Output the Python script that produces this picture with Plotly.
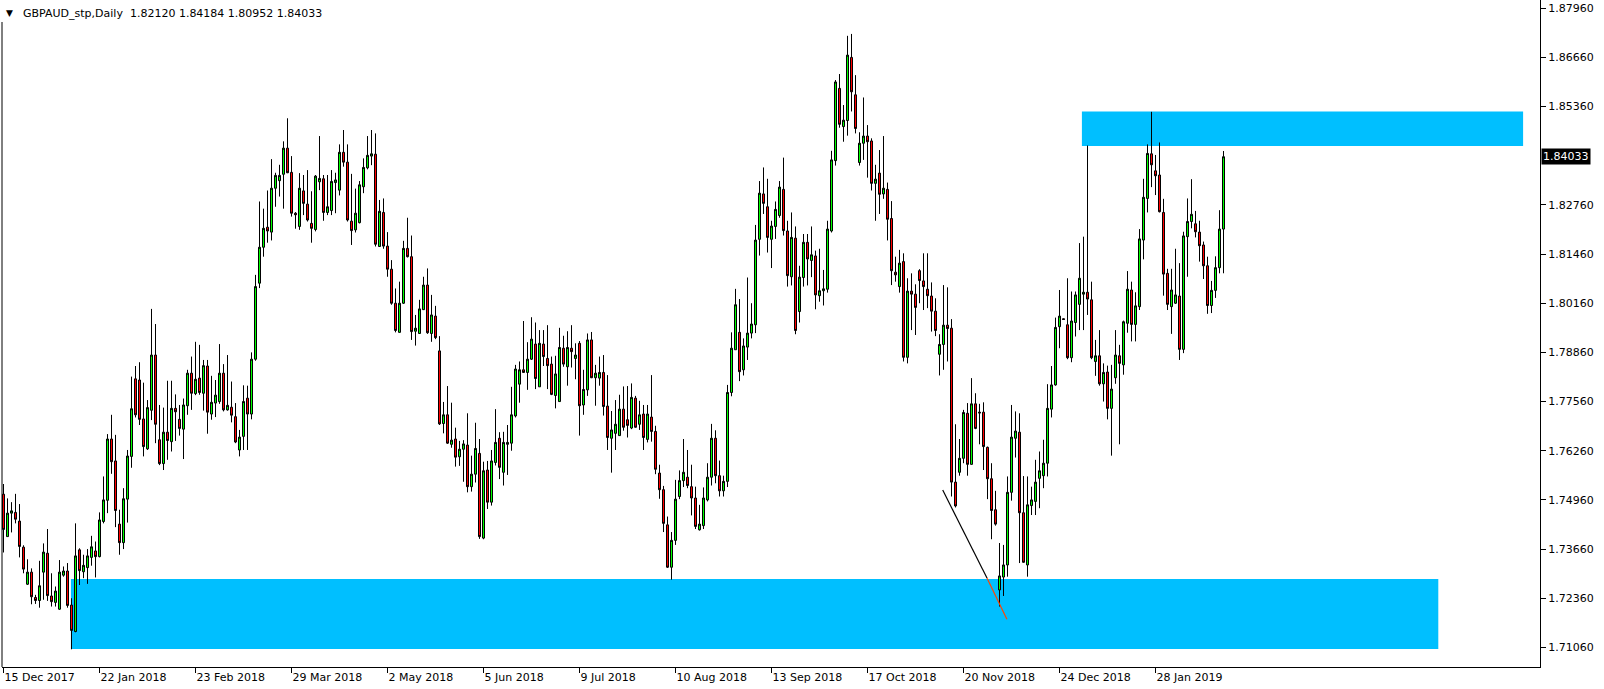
import plotly.graph_objects as go

# ---- data (GBPAUD daily, bar index 0 = 15 Dec 2017) ----
opens = [1.7511,1.7399,1.7461,1.7463,1.7440,1.7371,1.7273,1.7305,1.7238,1.7230,
1.7305,1.7355,1.7242,1.7225,1.7207,1.7297,1.7308,1.7218,1.7148,1.7364,
1.7306,1.7317,1.7344,1.7361,1.7346,1.7439,1.7495,1.7657,1.7599,1.7432,
1.7383,1.7498,1.7611,1.7816,1.7813,1.7710,1.7631,1.7733,1.7879,1.7655,
1.7592,1.7675,1.7650,1.7738,1.7709,1.7683,1.7745,1.7831,1.7777,1.7818,
1.7778,1.7850,1.7723,1.7752,1.7756,1.7831,1.7734,1.7741,1.7716,1.7628,
1.7664,1.7765,1.7723,1.7868,1.8069,1.8164,1.8217,1.8204,1.8320,1.8340,
1.8357,1.8426,1.8362,1.8254,1.8219,1.8313,1.8278,1.8227,1.8211,1.8337,
1.8345,1.8256,1.8261,1.8335,1.8315,1.8415,1.8389,1.8233,1.8210,1.8229,
1.8324,1.8374,1.8405,1.8410,1.8166,1.8256,1.8167,1.8106,1.8016,1.7939,
1.8016,1.8161,1.8139,1.7942,1.7936,1.7999,1.8064,1.7936,1.7982,1.7890,
1.7698,1.7721,1.7643,1.7657,1.7610,1.7630,1.7641,1.7531,1.7564,1.7619,
1.7395,1.7575,1.7490,1.7595,1.7659,1.7569,1.7643,1.7646,1.7718,1.7802,
1.7840,1.7833,1.7868,1.7908,1.7795,1.7908,1.7870,1.7855,1.7772,1.7756,
1.7897,1.7848,1.7897,1.7870,1.7910,1.7747,1.7787,1.7919,1.7819,1.7818,
1.7833,1.7744,1.7659,1.7672,1.7666,1.7736,1.7708,1.7686,1.7765,1.7696,
1.7723,1.7656,1.7715,1.7677,1.7567,1.7523,1.7430,1.7318,1.7389,1.7505,
1.7547,1.7556,1.7531,1.7501,1.7417,1.7428,1.7496,1.7556,1.7659,1.7560,
1.7520,1.7545,1.7780,1.7893,1.7939,1.7840,1.7900,1.7937,1.7959,1.8185,
1.8305,1.8271,1.8185,1.8219,1.8248,1.8317,1.8207,1.8086,1.8188,1.7994,
1.8084,1.8177,1.8129,1.8141,1.8036,1.8049,1.8053,1.8207,1.8393,1.8584,
1.8483,1.8499,1.8666,1.8567,1.8388,1.8439,1.8458,1.8445,1.8333,1.8360,
1.8305,1.8317,1.8240,1.8098,1.8060,1.8126,1.7873,1.8048,1.8040,1.8102,
1.8075,1.8053,1.8035,1.7995,1.7881,1.7907,1.7958,1.7950,1.7543,1.7569,
1.7606,1.7725,1.7590,1.7750,1.7728,1.7728,1.7635,1.7552,1.7470,1.7258,
1.7292,1.7324,1.7516,1.7659,1.7675,1.7462,1.7324,1.7481,1.7492,1.7553,
1.7560,1.7593,1.7736,1.7800,1.7954,1.7975,1.7959,1.7872,1.7965,1.8013,
1.8040,1.8045,1.8025,1.7862,1.7877,1.7803,1.7834,1.7738,1.7819,1.7877,
1.7853,1.7963,1.8051,1.7960,1.8007,1.8183,1.8293,1.8411,1.8366,1.8355,
1.8256,1.8095,1.8007,1.8016,1.8035,1.7894,1.8192,1.8232,1.8226,1.8204,
1.8170,1.8115,1.8010,1.8050,1.8110,1.82120]
highs = [1.7538,1.7500,1.7490,1.7512,1.7485,1.7376,1.7339,1.7315,1.7245,1.7335,
1.7381,1.7419,1.7302,1.7267,1.7337,1.7320,1.7329,1.7236,1.7434,1.7368,
1.7351,1.7366,1.7401,1.7386,1.7463,1.7558,1.7670,1.7721,1.7668,1.7470,
1.7527,1.7628,1.7822,1.7850,1.7860,1.7806,1.7760,1.8001,1.7961,1.7747,
1.7740,1.7811,1.7811,1.7775,1.7747,1.7764,1.7840,1.7875,1.7914,1.7906,
1.7866,1.7866,1.7824,1.7813,1.7908,1.7855,1.7879,1.7809,1.7752,1.7681,
1.7799,1.7798,1.7886,1.8091,1.8285,1.8266,1.8314,1.8397,1.8361,1.8382,
1.8444,1.8505,1.8405,1.8257,1.8360,1.8355,1.8368,1.8312,1.8355,1.8458,
1.8355,1.8355,1.8368,1.8361,1.8436,1.8474,1.8436,1.8358,1.8319,1.8339,
1.8399,1.8458,1.8474,1.8465,1.8289,1.8293,1.8204,1.8130,1.8055,1.8073,
1.8181,1.8242,1.8195,1.7985,1.8025,1.8086,1.8108,1.8038,1.8009,1.7929,
1.7755,1.7797,1.7753,1.7687,1.7652,1.7654,1.7725,1.7613,1.7700,1.7657,
1.7597,1.7599,1.7628,1.7736,1.7675,1.7676,1.7694,1.7795,1.7853,1.7862,
1.7969,1.7913,1.7979,1.7965,1.7945,1.7945,1.7958,1.7875,1.7877,1.7951,
1.7930,1.7942,1.7958,1.7910,1.7916,1.7840,1.7936,1.7940,1.7853,1.7875,
1.7879,1.7826,1.7731,1.7760,1.7774,1.7796,1.7797,1.7804,1.7771,1.7758,
1.7747,1.7747,1.7826,1.7692,1.7589,1.7533,1.7452,1.7411,1.7549,1.7574,
1.7657,1.7628,1.7589,1.7531,1.7483,1.7529,1.7593,1.7697,1.7680,1.7600,
1.7560,1.7800,1.7939,1.8054,1.8027,1.7923,1.8084,1.8016,1.8223,1.8339,
1.8375,1.8345,1.8234,1.8285,1.8339,1.8401,1.8234,1.8256,1.8219,1.8115,
1.8199,1.8199,1.8219,1.8155,1.8160,1.8104,1.8234,1.8419,1.8606,1.8622,
1.8540,1.8723,1.8728,1.8619,1.8468,1.8560,1.8487,1.8452,1.8382,1.8421,
1.8458,1.8335,1.8286,1.8139,1.8157,1.8148,1.8082,1.8095,1.8066,1.8106,
1.8148,1.8148,1.8071,1.8029,1.7934,1.8064,1.8058,1.7974,1.7696,1.7657,
1.7734,1.7752,1.7818,1.7778,1.7750,1.7754,1.7637,1.7593,1.7520,1.7382,
1.7377,1.7558,1.7747,1.7730,1.7725,1.7559,1.7558,1.7531,1.7602,1.7624,
1.7655,1.7802,1.7850,1.7978,1.8051,1.7976,1.8082,1.8047,1.8047,1.8175,
1.8192,1.8433,1.8073,1.7919,1.7945,1.7857,1.7851,1.7853,1.7945,1.7906,
1.7970,1.8101,1.8073,1.8045,1.8212,1.8345,1.8436,1.8522,1.8408,1.8441,
1.8292,1.8107,1.8107,1.8160,1.8122,1.8205,1.8293,1.8344,1.8260,1.8234,
1.8179,1.8139,1.8075,1.8140,1.8262,1.84184]
lows = [1.7357,1.7399,1.7410,1.7434,1.7344,1.7302,1.7271,1.7220,1.7221,1.7211,
1.7232,1.7229,1.7214,1.7214,1.7205,1.7293,1.7211,1.7101,1.7146,1.7271,
1.7289,1.7274,1.7322,1.7291,1.7344,1.7434,1.7461,1.7565,1.7424,1.7351,
1.7366,1.7436,1.7581,1.7714,1.7694,1.7611,1.7628,1.7707,1.7646,1.7588,
1.7575,1.7602,1.7624,1.7652,1.7666,1.7604,1.7721,1.7734,1.7773,1.7774,
1.7732,1.7671,1.7708,1.7715,1.7750,1.7730,1.7732,1.7701,1.7646,1.7611,
1.7628,1.7628,1.7709,1.7864,1.8056,1.8139,1.8176,1.8182,1.8271,1.8298,
1.8266,1.8360,1.8245,1.8213,1.8210,1.8249,1.8232,1.8176,1.8206,1.8315,
1.8234,1.8249,1.8249,1.8254,1.8301,1.8377,1.8232,1.8170,1.8203,1.8227,
1.8307,1.8370,1.8381,1.8166,1.8165,1.8160,1.8086,1.8012,1.7939,1.7938,
1.8014,1.8137,1.7919,1.7904,1.7935,1.7998,1.7935,1.7914,1.7921,1.7694,
1.7672,1.7644,1.7634,1.7584,1.7586,1.7544,1.7516,1.7518,1.7542,1.7393,
1.7392,1.7472,1.7481,1.7587,1.7551,1.7534,1.7562,1.7626,1.7714,1.7753,
1.7832,1.7787,1.7866,1.7789,1.7795,1.7850,1.7789,1.7773,1.7738,1.7756,
1.7848,1.7798,1.7846,1.7815,1.7666,1.7721,1.7771,1.7818,1.7745,1.7798,
1.7719,1.7628,1.7568,1.7628,1.7665,1.7679,1.7661,1.7683,1.7687,1.7681,
1.7628,1.7648,1.7650,1.7564,1.7499,1.7411,1.7316,1.7285,1.7377,1.7498,
1.7530,1.7527,1.7455,1.7419,1.7415,1.7419,1.7492,1.7534,1.7540,1.7505,
1.7505,1.7530,1.7770,1.7893,1.7810,1.7825,1.7866,1.7923,1.7937,1.8142,
1.8252,1.8150,1.8109,1.8186,1.8242,1.8195,1.8060,1.8063,1.7934,1.7965,
1.8060,1.8063,1.8085,1.8000,1.8020,1.8010,1.8044,1.8203,1.8380,1.8480,
1.8443,1.8459,1.8523,1.8465,1.8380,1.8395,1.8348,1.8314,1.8234,1.8252,
1.8292,1.8182,1.8064,1.8073,1.8044,1.7862,1.7857,1.7945,1.7932,1.8016,
1.7998,1.8003,1.7941,1.7929,1.7825,1.7840,1.7862,1.7505,1.7476,1.7560,
1.7593,1.7560,1.7589,1.7683,1.7643,1.7575,1.7498,1.7392,1.7428,1.7214,
1.7242,1.7293,1.7494,1.7608,1.7329,1.7330,1.7293,1.7456,1.7456,1.7474,
1.7527,1.7558,1.7714,1.7798,1.7897,1.7972,1.7868,1.7860,1.7928,1.7945,
1.7945,1.7985,1.7868,1.7824,1.7798,1.7756,1.7709,1.7613,1.7803,1.7643,
1.7827,1.7938,1.7915,1.7915,1.7998,1.8132,1.8256,1.8323,1.8302,1.8256,
1.8036,1.7998,1.7935,1.8014,1.7866,1.7884,1.8086,1.8214,1.8190,1.8126,
1.8080,1.7988,1.7990,1.8030,1.8095,1.80952]
closes = [1.7418,1.7461,1.7467,1.7445,1.7373,1.7313,1.7305,1.7240,1.7230,1.7269,
1.7358,1.7243,1.7227,1.7255,1.7305,1.7308,1.7217,1.7151,1.7348,1.7309,
1.7323,1.7348,1.7372,1.7346,1.7443,1.7496,1.7657,1.7597,1.7468,1.7383,
1.7499,1.7612,1.7737,1.7721,1.7709,1.7637,1.7740,1.7879,1.7696,1.7592,
1.7675,1.7653,1.7738,1.7729,1.7685,1.7747,1.7831,1.7778,1.7815,1.7780,
1.7851,1.7728,1.7754,1.7773,1.7831,1.7734,1.7746,1.7720,1.7649,1.7662,
1.7756,1.7723,1.7868,1.8060,1.8164,1.8214,1.8207,1.8320,1.8354,1.8354,
1.8426,1.8361,1.8254,1.8250,1.8320,1.8280,1.8236,1.8214,1.8352,1.8346,
1.8256,1.8271,1.8338,1.8342,1.8415,1.8389,1.8236,1.8208,1.8254,1.8329,
1.8375,1.8407,1.8411,1.8172,1.8259,1.8167,1.8106,1.8016,1.7944,1.8016,
1.8161,1.8139,1.7941,1.7950,1.8001,1.8064,1.7938,1.7985,1.7925,1.7697,
1.7721,1.7646,1.7654,1.7609,1.7630,1.7644,1.7531,1.7564,1.7632,1.7399,
1.7573,1.7490,1.7599,1.7648,1.7582,1.7648,1.7648,1.7721,1.7842,1.7840,
1.7833,1.7868,1.7921,1.7817,1.7910,1.7875,1.7851,1.7775,1.7829,1.7899,
1.7855,1.7899,1.7888,1.7879,1.7745,1.7788,1.7919,1.7819,1.7831,1.7833,
1.7743,1.7661,1.7681,1.7696,1.7736,1.7688,1.7693,1.7767,1.7688,1.7721,
1.7661,1.7723,1.7677,1.7577,1.7523,1.7434,1.7318,1.7389,1.7498,1.7547,
1.7569,1.7534,1.7501,1.7426,1.7432,1.7501,1.7556,1.7659,1.7560,1.7520,
1.7545,1.7780,1.7897,1.8012,1.7835,1.7903,1.7937,1.7961,1.8183,1.8307,
1.8280,1.8190,1.8220,1.8264,1.8323,1.8208,1.8089,1.8190,1.7944,1.8085,
1.8177,1.8133,1.8144,1.8038,1.8049,1.8054,1.8212,1.8395,1.8601,1.8489,
1.8500,1.8672,1.8575,1.8478,1.8439,1.8458,1.8443,1.8333,1.8344,1.8304,
1.8320,1.8238,1.8102,1.8091,1.8122,1.7873,1.8048,1.8040,1.8005,1.8076,
1.8060,1.8036,1.7995,1.7944,1.7907,1.7958,1.7949,1.7543,1.7480,1.7606,
1.7727,1.7590,1.7750,1.7685,1.7726,1.7637,1.7552,1.7468,1.7432,1.7295,
1.7324,1.7516,1.7662,1.7678,1.7462,1.7331,1.7483,1.7496,1.7543,1.7573,
1.7593,1.7738,1.7800,1.7952,1.7982,1.7973,1.7872,1.7969,1.8038,1.8082,
1.8045,1.8027,1.7872,1.7877,1.7803,1.7833,1.7738,1.7789,1.7879,1.7857,
1.7967,1.8053,1.7960,1.8009,1.8186,1.8296,1.8412,1.8382,1.8353,1.8258,
1.8093,1.8013,1.8051,1.8038,1.7894,1.8194,1.8232,1.8251,1.8205,1.8168,
1.8115,1.8010,1.8050,1.8110,1.8212,1.84033]
bars = list(range(len(opens)))

tick_bars = [0, 24, 48, 72, 96, 120, 144, 168, 192, 216, 240, 264, 288]
tick_labels = ["15 Dec 2017", "22 Jan 2018", "23 Feb 2018", "29 Mar 2018", "2 May 2018",
               "5 Jun 2018", "9 Jul 2018", "10 Aug 2018", "13 Sep 2018", "17 Oct 2018",
               "20 Nov 2018", "24 Dec 2018", "28 Jan 2019"]
price_ticks = [1.71060, 1.72360, 1.73660, 1.74960, 1.76260, 1.77560, 1.78860,
               1.80160, 1.81460, 1.82760, 1.85360, 1.86660, 1.87960]

# zones (bar index span, price span)
demand_bars = [16.85, 358.7]
demand_prices = [1.71017, 1.72867]
supply_bars = [269.6, 379.9]
supply_prices = [1.84316, 1.85229]
# trend line (bar index, price)
trend_bars = [234.8, 245.9, 250.85]
trend_prices = [1.75221, 1.72886, 1.71802]

symbol = "GBPAUD_stp,Daily"
last_bar = (opens[-1], highs[-1], lows[-1], closes[-1])

W, H = 1604, 689
ML, MR, MT, MB = 2, 64, 0, 22
PW, PH = W - ML - MR, H - MT - MB
FONT = "DejaVu Sans"
X0 = -0.375
X1 = X0 + PW / 4.0

fig = go.Figure()
fig.add_trace(go.Candlestick(
    x=bars, open=opens, high=highs, low=lows, close=closes,
    increasing=dict(line=dict(color="black", width=1), fillcolor="#00FF00"),
    decreasing=dict(line=dict(color="black", width=1), fillcolor="#FF0000"),
    whiskerwidth=0, showlegend=False, hoverinfo="skip"))

fig.add_trace(go.Scatter(x=trend_bars[:2], y=trend_prices[:2], mode="lines",
                         line=dict(color="black", width=1.2), showlegend=False, hoverinfo="skip"))
fig.add_trace(go.Scatter(x=trend_bars[1:], y=trend_prices[1:], mode="lines",
                         line=dict(color="#FF4500", width=1.2), showlegend=False, hoverinfo="skip"))

fig.add_shape(type="rect", xref="x", yref="y", x0=demand_bars[0], x1=demand_bars[1],
              y0=demand_prices[0], y1=demand_prices[1], fillcolor="#00BFFF",
              line=dict(width=0), layer="below")
fig.add_shape(type="rect", xref="x", yref="y", x0=supply_bars[0], x1=supply_bars[1],
              y0=supply_prices[0], y1=supply_prices[1], fillcolor="#00BFFF",
              line=dict(width=0), layer="below")
# left border (starts below the title line)
fig.add_shape(type="line", xref="paper", yref="paper", x0=0, x1=0,
              y0=0, y1=1 - 22 / PH, line=dict(color="black", width=1))

# title
fig.add_annotation(xref="paper", yref="paper", x=(9 - ML) / PW, y=1 - 13 / PH,
                   text="▼", showarrow=False, xanchor="center", yanchor="middle",
                   font=dict(family=FONT, size=9, color="black"))
title_txt = symbol + "\u00a0\u00a0" + " ".join(f"{v:.5f}" for v in last_bar)
fig.add_annotation(xref="paper", yref="paper", x=(21 - ML) / PW, y=1 - 13 / PH,
                   text=title_txt, showarrow=False, xanchor="left", yanchor="middle",
                   font=dict(family=FONT, size=11, color="black"))
# current price label
fig.add_annotation(xref="paper", yref="y", x=1, y=closes[-1], text=f"{closes[-1]:.5f}",
                   showarrow=False, xanchor="left", yanchor="middle", xshift=1,
                   bgcolor="black", borderpad=1,
                   font=dict(family=FONT, size=11, color="white"))

fig.update_layout(
    width=W, height=H, margin=dict(l=ML, r=MR, t=MT, b=MB),
    paper_bgcolor="white", plot_bgcolor="white", showlegend=False,
    boxgap=0.5, boxgroupgap=0,
    font=dict(family=FONT, size=11, color="black"),
    xaxis=dict(range=[X0, X1], showgrid=False, zeroline=False,
               showline=True, linecolor="black", linewidth=1,
               ticks="outside", ticklen=5, tickcolor="black", tickwidth=1,
               tickvals=tick_bars, ticktext=tick_labels,
               ticklabelposition="outside right",
               tickfont=dict(family=FONT, size=11, color="black"),
               rangeslider=dict(visible=False), fixedrange=True),
    yaxis=dict(side="right", range=[1.70542, 1.88177], showgrid=False, zeroline=False,
               showline=True, linecolor="black", linewidth=1,
               ticks="outside", ticklen=5, tickcolor="black", tickwidth=1,
               tickvals=price_ticks, ticktext=[f"{v:.5f}" for v in price_ticks],
               tickfont=dict(family=FONT, size=11, color="black"), fixedrange=True),
)

fig.write_html("out.html", config={"displayModeBar": False, "staticPlot": True},
               post_script="document.body.style.margin='0';document.body.style.overflow='hidden';")
